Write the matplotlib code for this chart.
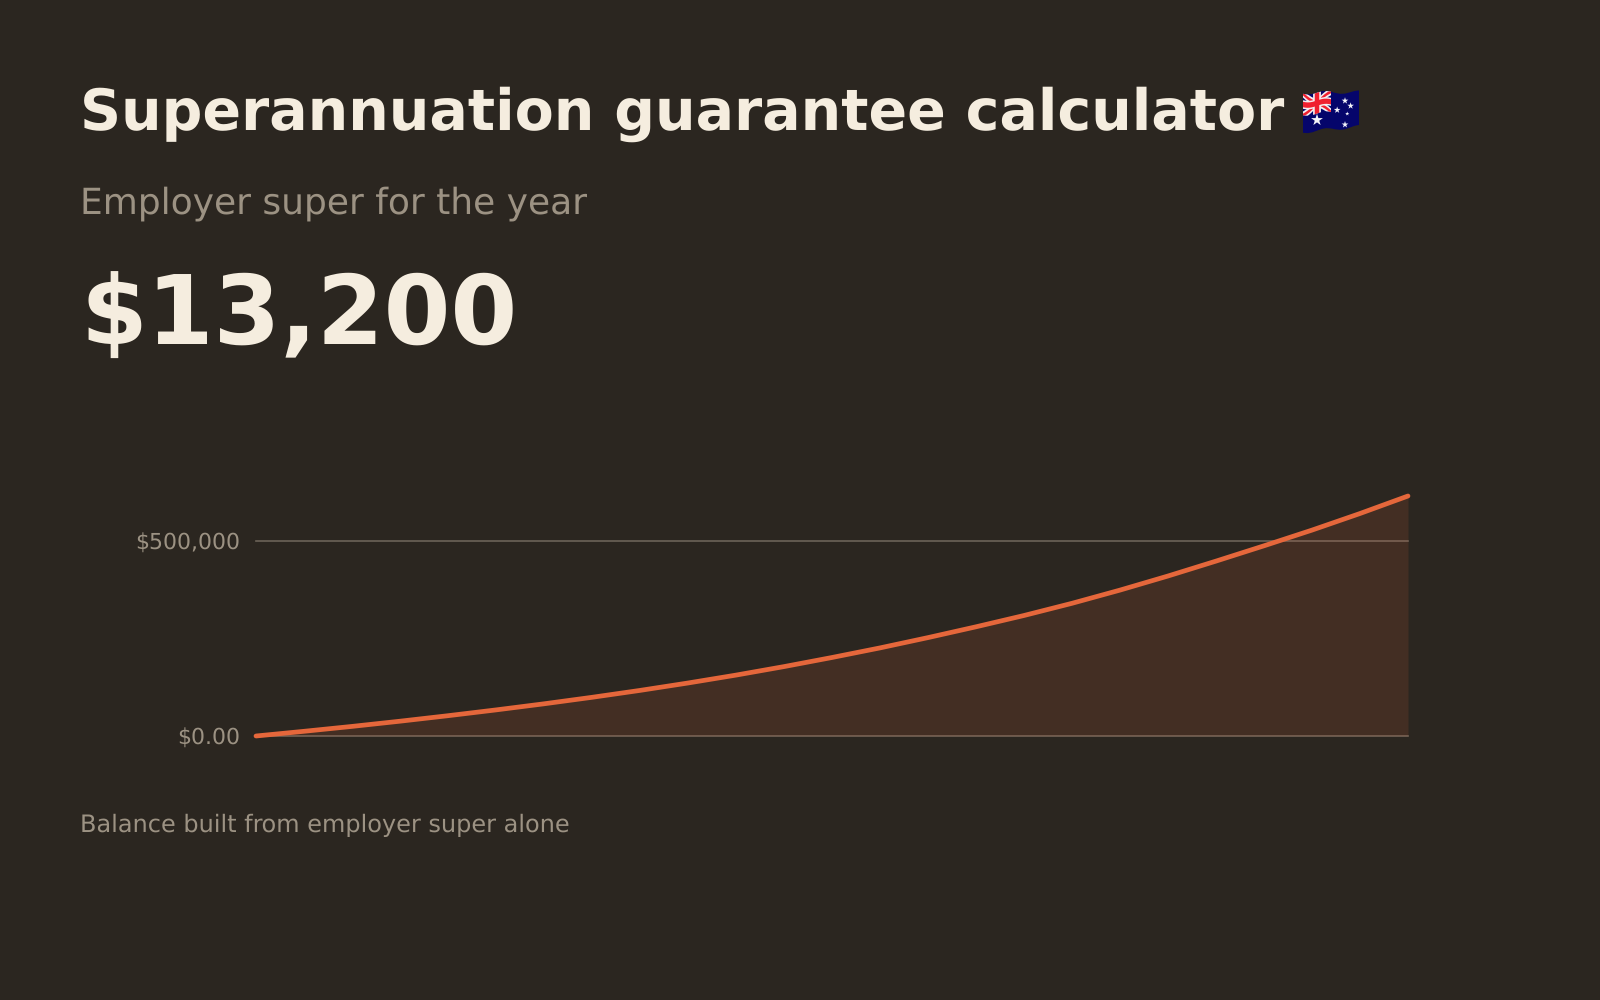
import numpy as np
import matplotlib
matplotlib.use("Agg")
import matplotlib.pyplot as plt
from matplotlib.patches import Polygon
from matplotlib.transforms import ScaledTranslation

plt.rcParams["text.hinting"] = "none"
plt.rcParams["text.hinting_factor"] = 1

# Data
years = list(range(0, 25))
balance = [0, 12050, 24600, 37950, 52050, 66900, 82550, 99200, 116900, 135900,
           156150, 177950, 201300, 225900, 252300, 280000, 309000, 340250,
           374100, 410250, 448450, 487700, 527950, 570500, 615400]
tick_values = [0, 500000]
tick_labels = ["$0.00", "$500,000"]
title = "Superannuation guarantee calculator"
subtitle = "Employer super for the year"
amount = "$13,200"
footer = "Balance built from employer super alone"

BG = "#2b2620"
CREAM = "#f5eddf"
MUTED = "#9c9283"
ORANGE = "#e5673b"
GRID = "#6b6358"

W, H = 1600, 1000
fig = plt.figure(figsize=(16, 10), dpi=100, facecolor=BG)

def fx(px): return px / W
def fy(py): return 1 - py / H

fig.text(fx(80), fy(130), title, color=CREAM, fontsize=41.4, fontweight="bold", family="DejaVu Sans", va="baseline")
fig.text(fx(80), fy(214), subtitle, color=MUTED, fontsize=25.92, family="DejaVu Sans", va="baseline")
fig.text(fx(80), fy(344.5), amount, color=CREAM, fontsize=69.12, fontweight="bold", family="DejaVu Sans", va="baseline")
fig.text(fx(80), fy(832), footer, color=MUTED, fontsize=17.28, family="DejaVu Sans", va="baseline")

# Chart
ax = fig.add_axes([fx(256), fy(736), fx(1408 - 256), (736 - 496) / H])
ax.set_facecolor("none")
ax.set_xlim(years[0], years[-1])
ax.set_ylim(0, balance[-1])
for s in ax.spines.values():
    s.set_visible(False)
ax.set_xticks([])
ax.set_yticks(tick_values, tick_labels)
ax.tick_params(axis="y", length=0, pad=11.5, labelsize=16, labelcolor=MUTED)
for lab in ax.get_yticklabels():
    lab.set_verticalalignment("center")
    lab.set_transform(lab.get_transform() + ScaledTranslation(0, -1.2 / 100, fig.dpi_scale_trans))
for v in tick_values:
    ax.axhline(v, color=GRID, lw=1.2, zorder=1, clip_on=False)
ax.fill_between(years, balance, 0, color=ORANGE, alpha=0.135, lw=0, zorder=2)
ax.plot(years, balance, color=ORANGE, lw=3.4, solid_capstyle="round",
        solid_joinstyle="round", clip_on=False, zorder=3)

# Australian flag glyph, drawn in a pixel overlay
ov = fig.add_axes([0, 0, 1, 1])
ov.set_xlim(0, W)
ov.set_ylim(H, 0)
ov.axis("off")
ov.patch.set_alpha(0)

FL, FR, FT = 1303, 1359, 93

def warp(u, v):
    u = np.asarray(u, float)
    v = np.asarray(v, float)
    wave = -1.6 * np.sin(2 * np.pi * (1.67 * u - 0.417))
    return FL + u * (FR - FL), FT + v * (39 - 4.5 * u) + wave - 1.0 * u

def outline(pts):
    pts = np.asarray(pts, float)
    seg = []
    n = len(pts)
    for i in range(n):
        a, b = pts[i], pts[(i + 1) % n]
        for t in np.linspace(0, 1, 12, endpoint=False):
            seg.append(a + (b - a) * t)
    seg = np.array(seg)
    x, y = warp(seg[:, 0], seg[:, 1])
    return np.c_[x, y]

def poly(pts, color, z=5, clip=None):
    p = Polygon(outline(pts), closed=True, fc=color, ec="none", zorder=z)
    ov.add_patch(p)
    if clip is not None:
        p.set_clip_path(clip)
    return p

poly([(0, 0), (1, 0), (1, 1), (0, 1)], "#05056b", 4)
cw, ch = 0.5, 0.55
canton = poly([(0, 0), (cw, 0), (cw, ch), (0, ch)], "#05056b", 4.5)
d = 0.05
for (a, b) in [((0, 0), (cw, ch)), ((cw, 0), (0, ch))]:
    a, b = np.array(a), np.array(b)
    e = (b - a) * 0.1
    n = np.array([-(b - a)[1], (b - a)[0]])
    n = n / np.linalg.norm(n)
    a2, b2 = a - e, b + e
    poly([a2 + n * d * 1.3, b2 + n * d * 1.3, b2 - n * d * 1.3, a2 - n * d * 1.3], "#f4eef0", 5, clip=canton)
    poly([a2 + n * d * 0.55, b2 + n * d * 0.55, b2 - n * d * 0.55, a2 - n * d * 0.55], "#f0202f", 6, clip=canton)
poly([(cw/2 - .07, 0), (cw/2 + .07, 0), (cw/2 + .07, ch), (cw/2 - .07, ch)], "#f4eef0", 7)
poly([(0, ch/2 - .11), (cw, ch/2 - .11), (cw, ch/2 + .11), (0, ch/2 + .11)], "#f4eef0", 7)
poly([(cw/2 - .04, 0), (cw/2 + .04, 0), (cw/2 + .04, ch), (cw/2 - .04, ch)], "#f0202f", 8)
poly([(0, ch/2 - .07), (cw, ch/2 - .07), (cw, ch/2 + .07), (0, ch/2 + .07)], "#f0202f", 8)

star_u = [0.25, 0.75, 0.61, 0.85, 0.79, 0.75]
star_v = [0.72, 0.20, 0.46, 0.39, 0.58, 0.87]
star_s = [80, 26, 26, 26, 10, 26]
sx, sy = warp(star_u, star_v)
ov.scatter(sx, sy, s=star_s, marker="*", c="#f4f4fa", linewidths=0, zorder=9)

fig.savefig("out.png", dpi=100, facecolor=BG)
